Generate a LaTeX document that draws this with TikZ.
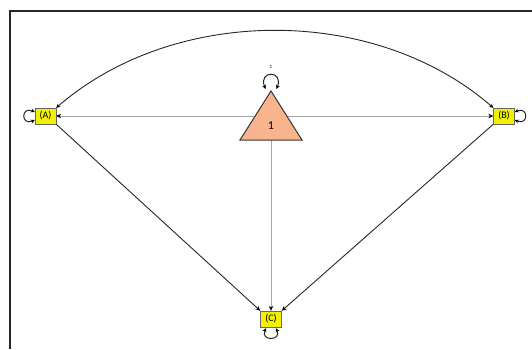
\documentclass[tikz,border=0pt]{standalone}
\usepackage{fontspec}
\setmainfont{Carlito}
\usetikzlibrary{arrows.meta,calc}
\definecolor{boxyellow}{HTML}{F2F000}
\definecolor{trifill}{HTML}{F8B48C}
\begin{document}
\begin{tikzpicture}[x=1pt,y=-1pt,
  tip/.style={-{Stealth[length=5pt,width=4.5pt,color=black]}},
  dtip/.style={{Stealth[length=4pt,width=4pt,color=black]}-{Stealth[length=4pt,width=4pt,color=black]}},
  varbox/.style={draw=black!60, fill=boxyellow, minimum width=21pt, minimum height=16pt, inner sep=0pt, font=\fontsize{10}{11}\selectfont},
  grayline/.style={draw=black!35, line width=1pt, tip},
  blackline/.style={draw=black!85, line width=0.9pt, tip},
  loopline/.style={draw=black!85, line width=1pt, dtip}]
\useasboundingbox (0,0) rectangle (532,349);
\draw[line width=1.5pt, black!85] (10,349) -- (10,11) -- (532,11);
\node[varbox] (A) at (45.5,116) {(A)};
\node[varbox] (B) at (504,116) {(B)};
\node[varbox] (C) at (271,319) {(C)};
\coordinate (T) at (271,116);
\coordinate (Ttop) at (271,91);
\coordinate (Tl) at (240,140);
\coordinate (Tr) at (302,140);
% gray paths from the constant
\draw[grayline] (T) -- (A.east);
\draw[grayline] (T) -- (B.west);
\draw[grayline] (T) -- (C.north);
% triangle
\draw[fill=trifill, draw=black!80, line width=1pt, line join=miter] (Ttop) -- (Tr) -- (Tl) -- cycle;
\node[font=\fontsize{12}{13}\selectfont] (one) at (271,126) {1};
% black paths
\draw[blackline] (A.south east) -- (C.north west);
\draw[blackline] (B.south west) -- (C.north east);
% covariance arc
\draw[draw=black!85, line width=0.9pt, dtip] (A.north east) .. controls (175,5) and (375,5) .. (B.north west);
% variance loops
\draw[loopline] ($(A.west)+(0,-4)$) .. controls ($(A.west)+(-14,-10)$) and ($(A.west)+(-14,10)$) .. ($(A.west)+(0,4)$);
\draw[loopline] ($(B.east)+(0,-4)$) .. controls ($(B.east)+(14,-10)$) and ($(B.east)+(14,10)$) .. ($(B.east)+(0,4)$);
\draw[loopline] ($(C.south)+(-5,1)$) .. controls ($(C.south)+(-11,14)$) and ($(C.south)+(11,14)$) .. ($(C.south)+(5,1)$);
\coordinate (Tl1) at (265.5,89);
\coordinate (Tr1) at (276.5,89);
\draw[loopline] (Tl1) .. controls (258,70) and (284,70) .. (Tr1);
\node[font=\fontsize{5}{5}\selectfont, inner sep=0pt] (lbl) at (271,67) {1};
\end{tikzpicture}
\end{document}
